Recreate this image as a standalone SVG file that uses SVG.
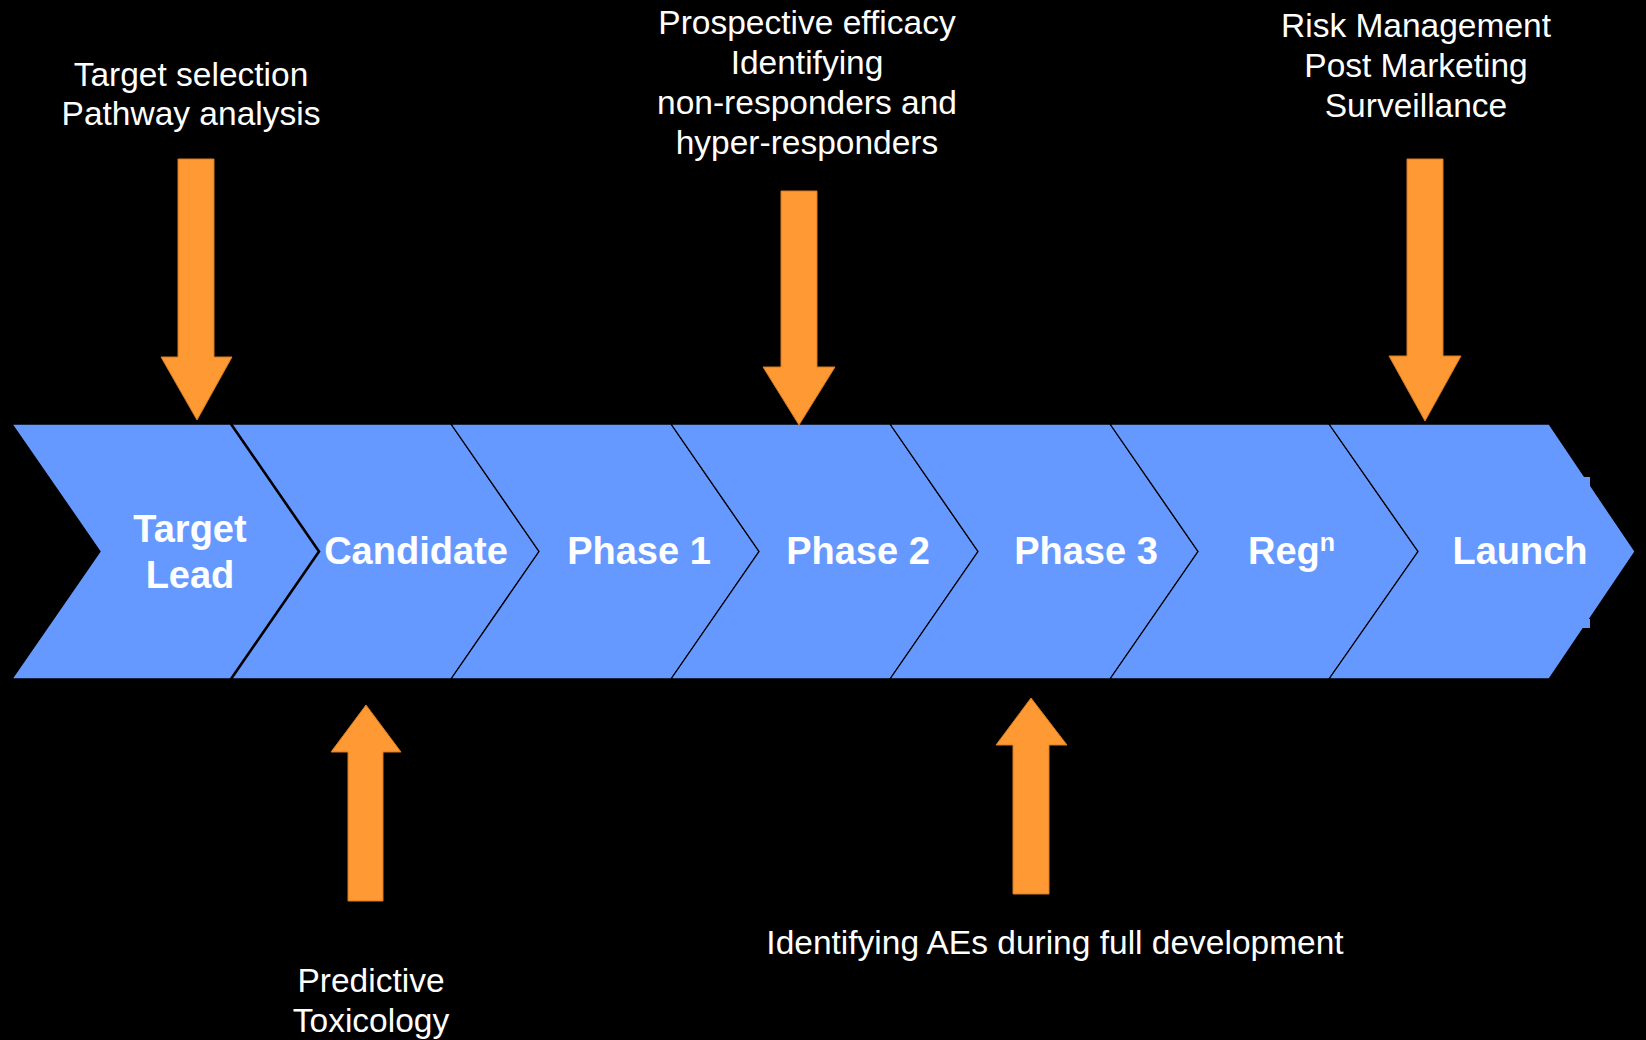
<svg xmlns="http://www.w3.org/2000/svg" width="1646" height="1040" viewBox="0 0 1646 1040">
  <style>
    .chev { fill: #6699FF; stroke: #000; stroke-width: 1.3; stroke-linejoin: miter; }
    .lbl { font-family: "Liberation Sans", Arial, sans-serif; font-weight: bold; font-size: 38px; fill: #FFFFFF; text-anchor: middle; }
    .note { font-family: "Liberation Sans", Arial, sans-serif; font-size: 33.5px; fill: #FFFFFF; text-anchor: middle; }
    .arrow { fill: #FF9933; stroke: #D87A20; stroke-width: 1; }
  </style>
  <rect x="0" y="0" width="1646" height="1040" fill="#000000"/>

  <g id="chevron-target-lead">
    <polygon class="chev" points="12,424 231,424 319,551.5 231,679 12,679 100,551.5"/>
    <text class="lbl" x="190" y="542">Target</text>
    <text class="lbl" x="190" y="588">Lead</text>
  </g>
  <g id="chevron-candidate">
    <polygon class="chev" points="231,424 451,424 539,551.5 451,679 231,679 319,551.5"/>
    <polyline points="231,424 319,551.5 231,679" fill="none" stroke="#000" stroke-width="2.6"/>
    <text class="lbl" x="416" y="564">Candidate</text>
  </g>
  <g id="chevron-phase1">
    <polygon class="chev" points="451,424 671,424 759,551.5 671,679 451,679 539,551.5"/>
    <text class="lbl" x="639" y="564">Phase 1</text>
  </g>
  <g id="chevron-phase2">
    <polygon class="chev" points="671,424 890,424 978,551.5 890,679 671,679 759,551.5"/>
    <text class="lbl" x="858" y="564">Phase 2</text>
  </g>
  <g id="chevron-phase3">
    <polygon class="chev" points="890,424 1110,424 1198,551.5 1110,679 890,679 978,551.5"/>
    <text class="lbl" x="1086" y="564">Phase 3</text>
  </g>
  <g id="chevron-regn">
    <polygon class="chev" points="1110,424 1329,424 1418,551.5 1329,679 1110,679 1198,551.5"/>
    <text class="lbl" x="1248" y="564" style="text-anchor:start">Reg<tspan font-size="25" dy="-13">n</tspan></text>
  </g>
  <g id="chevron-launch">
    <polygon class="chev" points="1329,424 1549,424 1635,551.5 1549,679 1329,679 1418,551.5"/>
    <rect x="1583" y="477" width="7" height="9" fill="#6699FF"/>
    <rect x="1583" y="619" width="7" height="9" fill="#6699FF"/>
    <text class="lbl" x="1520" y="564">Launch</text>
  </g>

  <g id="note-target-selection">
    <text class="note" x="191" y="86">Target selection</text>
    <text class="note" x="191" y="125">Pathway analysis</text>
  </g>
  <g id="note-prospective">
    <text class="note" x="807" y="34">Prospective efficacy</text>
    <text class="note" x="807" y="74">Identifying</text>
    <text class="note" x="807" y="114">non-responders and</text>
    <text class="note" x="807" y="154">hyper-responders</text>
  </g>
  <g id="note-risk">
    <text class="note" x="1416" y="37">Risk Management</text>
    <text class="note" x="1416" y="77">Post Marketing</text>
    <text class="note" x="1416" y="117">Surveillance</text>
  </g>
  <g id="note-predictive">
    <text class="note" x="371" y="992">Predictive</text>
    <text class="note" x="371" y="1032">Toxicology</text>
  </g>
  <g id="note-aes">
    <text class="note" x="1055" y="954">Identifying AEs during full development</text>
  </g>

  <g id="connectors">
    <polygon class="arrow" points="178,159 214,159 214,357 232,357 197,420 161,357 178,357"/>
    <polygon class="arrow" points="781,191 817,191 817,367 835,367 799,425 763,367 781,367"/>
    <polygon class="arrow" points="1407,159 1443,159 1443,356 1461,356 1425,421 1389,356 1407,356"/>
    <polygon class="arrow" points="366,705 401,752 383,752 383,901 348,901 348,752 331,752"/>
    <polygon class="arrow" points="1031,698 1067,745 1049,745 1049,894 1013,894 1013,745 996,745"/>
  </g>
</svg>
